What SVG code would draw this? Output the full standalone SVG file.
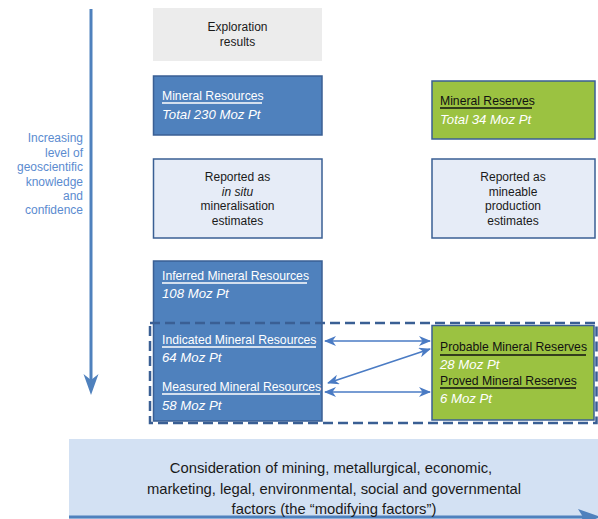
<svg xmlns="http://www.w3.org/2000/svg" width="598" height="519" viewBox="0 0 598 519">
<defs>
<style>
text{font-family:"Liberation Sans",Arial,Helvetica,sans-serif;}
.c{font-size:12px;fill:#1a1a1a;text-anchor:middle;}
.side{font-size:12px;fill:#5b8bd0;text-anchor:end;}
.t{font-size:12.2px;fill:#ffffff;}
.tk{font-size:12.2px;fill:#111111;}
.v{font-size:13.2px;fill:#ffffff;font-style:italic;}
.blue{fill:#4f81bd;stroke:#3a5f94;stroke-width:1.5;}
.green{fill:#9bc241;stroke:#3a5f94;stroke-width:1.5;}
.light{fill:#e6ecf7;stroke:#3a5f94;stroke-width:1.5;}
.ulw{stroke:#ffffff;stroke-width:1.3;}
.ulk{stroke:#111111;stroke-width:1.5;}
.conn{stroke:#4a7bc4;stroke-width:1.6;fill:none;marker-start:url(#ah);marker-end:url(#ah);}
.bot{font-size:14.8px;fill:#1a1a1a;text-anchor:middle;}
</style>
<marker id="ah" viewBox="0 0 12 10" refX="11" refY="5" markerWidth="12" markerHeight="10" markerUnits="userSpaceOnUse" orient="auto-start-reverse">
<path d="M0,0 L12,5 L0,10 L3.5,5 z" fill="#4a7bc4"/>
</marker>
</defs>

<g id="confidence-arrow">
<line x1="91" y1="9" x2="91" y2="382" stroke="#4f81bd" stroke-width="3"/>
<polygon points="91,395 83.5,374 91,380 98.5,374" fill="#4f81bd"/>
<text class="side" x="83" y="142">Increasing</text>
<text class="side" x="83" y="157">level of</text>
<text class="side" x="83" y="171">geoscientific</text>
<text class="side" x="83" y="186">knowledge</text>
<text class="side" x="83" y="200">and</text>
<text class="side" x="83" y="214">confidence</text>
</g>

<g id="exploration">
<rect x="153" y="8" width="169" height="53" fill="#ececec"/>
<text class="c" x="237.5" y="31">Exploration</text>
<text class="c" x="237.5" y="46">results</text>
</g>

<g id="mineral-resources">
<rect class="blue" x="153.5" y="76" width="168.5" height="59"/>
<text class="t" x="162" y="100">Mineral Resources</text>
<line class="ulw" x1="162" y1="103" x2="262" y2="103"/>
<text class="v" x="162" y="119">Total 230 Moz Pt</text>
</g>

<g id="mineral-reserves">
<rect class="green" x="432" y="81" width="163" height="58"/>
<text class="tk" x="440" y="105">Mineral Reserves</text>
<line class="ulk" x1="440" y1="108" x2="532" y2="108"/>
<text class="v" x="440" y="124">Total 34 Moz Pt</text>
</g>

<g id="in-situ">
<rect class="light" x="153.5" y="159" width="168.5" height="79"/>
<text class="c" x="237.5" y="181">Reported as</text>
<text class="c" x="237.5" y="196" font-style="italic">in situ</text>
<text class="c" x="237.5" y="210">mineralisation</text>
<text class="c" x="237.5" y="225">estimates</text>
</g>

<g id="mineable">
<rect class="light" x="432" y="159" width="163" height="79"/>
<text class="c" x="513" y="181">Reported as</text>
<text class="c" x="513" y="196">mineable</text>
<text class="c" x="513" y="210">production</text>
<text class="c" x="513" y="225">estimates</text>
</g>

<g id="resources-detail">
<rect class="blue" x="153.5" y="261" width="168.5" height="160"/>
<text class="t" x="162" y="280">Inferred Mineral Resources</text>
<line class="ulw" x1="162" y1="283" x2="307" y2="283"/>
<text class="v" x="162" y="298">108 Moz Pt</text>
<text class="t" x="162" y="344">Indicated Mineral Resources</text>
<line class="ulw" x1="162" y1="347" x2="316" y2="347"/>
<text class="v" x="162" y="362">64 Moz Pt</text>
<text class="t" x="162" y="391">Measured Mineral Resources</text>
<line class="ulw" x1="162" y1="394" x2="320" y2="394"/>
<text class="v" x="162" y="410">58 Moz Pt</text>
</g>

<g id="reserves-detail">
<rect class="green" x="432" y="325.5" width="162" height="94.5"/>
<text class="tk" x="440" y="351">Probable Mineral Reserves</text>
<line class="ulk" x1="440" y1="355" x2="586" y2="355"/>
<text class="v" x="440" y="369">28 Moz Pt</text>
<text class="tk" x="440" y="385">Proved Mineral Reserves</text>
<line class="ulk" x1="440" y1="388" x2="576" y2="388"/>
<text class="v" x="440" y="403">6 Moz Pt</text>
</g>

<g id="conversion-group">
<rect x="150" y="323" width="446.5" height="100" fill="none" stroke="#3a5f94" stroke-width="2.5" stroke-dasharray="10 5"/>
</g>

<g id="connectors">
<line class="conn" x1="325" y1="341" x2="430" y2="341"/>
<line class="conn" x1="328" y1="383" x2="430" y2="349"/>
<line class="conn" x1="325" y1="392" x2="430" y2="392"/>
</g>

<g id="modifying-factors">
<rect x="69" y="439" width="529" height="80" fill="#d3e1f3"/>
<line x1="69" y1="517" x2="584" y2="517" stroke="#4f81bd" stroke-width="3"/>
<polygon points="578,509 601,517 578,525 583,517" fill="#4f81bd"/>
<text class="bot" x="331" y="473">Consideration of mining, metallurgical, economic,</text>
<text class="bot" x="334" y="494">marketing, legal, environmental, social and governmental</text>
<text class="bot" x="334" y="514">factors (the “modifying factors”)</text>
</g>
</svg>
